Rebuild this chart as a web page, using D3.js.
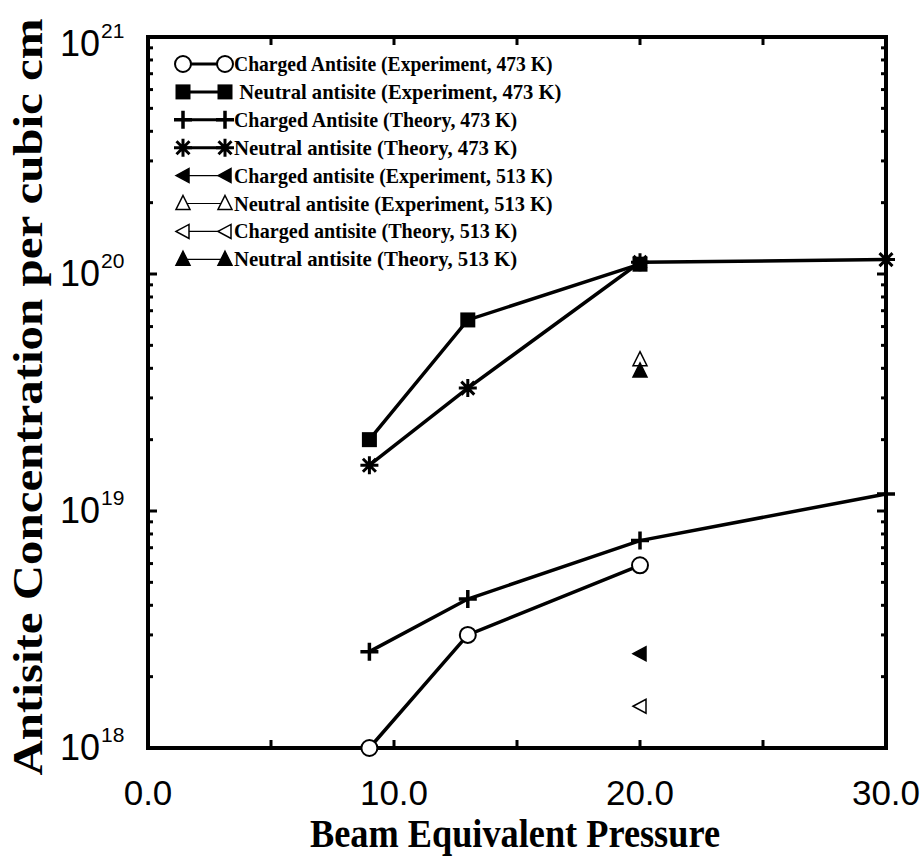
<!DOCTYPE html>
<html>
<head>
<meta charset="utf-8">
<script src="https://cdn.jsdelivr.net/npm/d3@7"></script>
<style>
  body { margin: 0; background: #fff; }
  svg { display: block; }
</style>
</head>
<body>
<svg width="922" height="857"></svg>
<script>
// beam equivalent pressure (x) for each series
var pressure473 = [9, 13, 20];
var pressureTheory473 = [9, 13, 20, 30];
var pressure513 = [20];

// antisite concentration, per cubic cm
var chargedExp473 = [1.0e18, 3.0e18, 5.9e18];
var neutralExp473 = [2.0e19, 6.4e19, 1.1e20];
var chargedTheory473 = [2.55e18, 4.25e18, 7.5e18, 1.18e19];
var neutralTheory473 = [1.56e19, 3.3e19, 1.12e20, 1.15e20];
var chargedExp513 = [2.5e18];
var neutralExp513 = [4.35e19];
var chargedTheory513 = [1.5e18];
var neutralTheory513 = [3.9e19];

var legendLabels = [
    "Charged Antisite (Experiment, 473 K)",
    " Neutral antisite (Experiment, 473 K)",
    "Charged Antisite (Theory, 473 K)",
    "Neutral antisite (Theory, 473 K)",
    "Charged antisite (Experiment, 513 K)",
    "Neutral antisite (Experiment, 513 K)",
    "Charged antisite (Theory, 513 K)",
    "Neutral antisite (Theory, 513 K)"
];

var xTicks = [0, 10, 20, 30];
var yDecades = [1e18, 1e19, 1e20, 1e21];

var svg = d3.select("svg");
var plotLeft = 148, plotRight = 886, plotTop = 37, plotBottom = 748;

var x = d3.scaleLinear().domain([0, 30]).range([plotLeft, plotRight]);
var y = d3.scaleLog().domain([1e18, 1e21]).range([plotBottom, plotTop]);

var series = [
    {xs: pressure473, ys: chargedExp473, sym: "circle", line: true},
    {xs: pressure473, ys: neutralExp473, sym: "square", line: true},
    {xs: pressureTheory473, ys: chargedTheory473, sym: "plus", line: true},
    {xs: pressureTheory473, ys: neutralTheory473, sym: "star", line: true},
    {xs: pressure513, ys: chargedExp513, sym: "leftFilled", line: false},
    {xs: pressure513, ys: neutralExp513, sym: "upOpen", line: false},
    {xs: pressure513, ys: chargedTheory513, sym: "leftOpen", line: false},
    {xs: pressure513, ys: neutralTheory513, sym: "upFilled", line: false}
];

// draw a marker at (cx, cy)
function marker(g, sym, cx, cy) {
    var m = g.append("g").attr("transform", "translate(" + cx + "," + cy + ")");
    if (sym == "circle") {
        m.append("circle").attr("r", 8).attr("fill", "#fff").attr("stroke", "#000").attr("stroke-width", 2);
    } else if (sym == "square") {
        m.append("rect").attr("x", -7.5).attr("y", -7.5).attr("width", 15).attr("height", 15).attr("fill", "#000");
    } else if (sym == "plus") {
        m.append("path").attr("d", "M-9,0H9M0,-9V9").attr("stroke", "#000").attr("stroke-width", 3.5);
    } else if (sym == "star") {
        m.append("path").attr("d", "M-9,0H9M0,-9V9M-6.5,-6.5L6.5,6.5M-6.5,6.5L6.5,-6.5")
            .attr("stroke", "#000").attr("stroke-width", 3);
    } else if (sym == "leftFilled" || sym == "leftOpen") {
        m.append("path").attr("d", "M-7,0L6,-7L6,7Z")
            .attr("fill", sym == "leftFilled" ? "#000" : "#fff").attr("stroke", "#000").attr("stroke-width", 1.5);
    } else {
        m.append("path").attr("d", "M0,-8L7,6L-7,6Z")
            .attr("fill", sym == "upFilled" ? "#000" : "#fff").attr("stroke", "#000").attr("stroke-width", 1.5);
    }
}

// lines
var line = d3.line().x(function(d) { return x(d[0]); }).y(function(d) { return y(d[1]); });
var plot = svg.append("g");
series.forEach(function(s) {
    var pts = s.xs.map(function(v, i) { return [v, s.ys[i]]; });
    if (s.line) {
        plot.append("path").datum(pts).attr("d", line)
            .attr("fill", "none").attr("stroke", "#000").attr("stroke-width", 3.5);
    }
    s.pts = pts;
});

// frame
svg.append("rect").attr("x", plotLeft).attr("y", plotTop)
    .attr("width", plotRight - plotLeft).attr("height", plotBottom - plotTop)
    .attr("fill", "none").attr("stroke", "#000").attr("stroke-width", 4);

series.forEach(function(s) {
    s.pts.forEach(function(p) { marker(svg, s.sym, x(p[0]), y(p[1])); });
});

// y ticks (both sides, inward)
var yMinor = [];
yDecades.slice(0, 3).forEach(function(d) {
    for (var k = 2; k <= 9; k++) yMinor.push(d * k);
});
var ticks = svg.append("g").attr("stroke", "#000").attr("stroke-width", 3);
yDecades.forEach(function(v) {
    ticks.append("line").attr("x1", plotLeft).attr("x2", plotLeft + 9).attr("y1", y(v)).attr("y2", y(v));
    ticks.append("line").attr("x1", plotRight).attr("x2", plotRight - 9).attr("y1", y(v)).attr("y2", y(v));
});
yMinor.forEach(function(v) {
    ticks.append("line").attr("x1", plotLeft).attr("x2", plotLeft + 5).attr("y1", y(v)).attr("y2", y(v));
    ticks.append("line").attr("x1", plotRight).attr("x2", plotRight - 5).attr("y1", y(v)).attr("y2", y(v));
});
// x ticks every 5
d3.range(5, 30, 5).forEach(function(v) {
    ticks.append("line").attr("x1", x(v)).attr("x2", x(v)).attr("y1", plotBottom).attr("y2", plotBottom - 8);
    ticks.append("line").attr("x1", x(v)).attr("x2", x(v)).attr("y1", plotTop).attr("y2", plotTop + 8);
});

// y tick labels
var yl = svg.append("g").attr("font-family", "Liberation Sans, Arial, sans-serif").attr("fill", "#000");
yDecades.forEach(function(v) {
    var ty = Math.max(y(v), 44);
    yl.append("text").attr("x", 100).attr("y", ty + 12).attr("text-anchor", "end")
        .attr("font-size", 36).text("10");
    yl.append("text").attr("x", 101).attr("y", ty - 6).attr("font-size", 21)
        .text(Math.round(Math.log10(v)));
});

// x tick labels
svg.append("g").selectAll("text").data(xTicks).enter().append("text")
    .attr("x", function(d) { return x(d); })
    .attr("y", 805)
    .attr("text-anchor", "middle")
    .attr("font-family", "Liberation Sans, Arial, sans-serif")
    .attr("font-size", 35)
    .text(function(d) { return d.toFixed(1); });

// axis titles
svg.append("text").attr("x", 515).attr("y", 847).attr("text-anchor", "middle")
    .attr("font-family", "Liberation Serif, Times New Roman, serif").attr("font-weight", "bold")
    .attr("font-size", 39).attr("textLength", 410).attr("lengthAdjust", "spacingAndGlyphs")
    .text("Beam Equivalent Pressure");
svg.append("text").attr("transform", "translate(42,397) rotate(-90)").attr("text-anchor", "middle")
    .attr("font-family", "Liberation Serif, Times New Roman, serif").attr("font-weight", "bold")
    .attr("font-size", 42).attr("textLength", 757).attr("lengthAdjust", "spacingAndGlyphs")
    .text("Antisite Concentration per cubic cm");

// legend
var legend = svg.append("g");
series.forEach(function(s, i) {
    var ly = 64 + i * 27.9;
    legend.append("line").attr("x1", 183).attr("x2", 225).attr("y1", ly).attr("y2", ly)
        .attr("stroke", "#000").attr("stroke-width", i < 4 ? 3 : 1.2);
    marker(legend, s.sym, 183, ly);
    marker(legend, s.sym, 225, ly);
    legend.append("text").attr("x", 234).attr("y", ly + 7)
        .attr("font-family", "Liberation Serif, Times New Roman, serif").attr("font-weight", "bold")
        .attr("font-size", 21).attr("textLength", legendLabels[i].length * 8.85)
        .attr("lengthAdjust", "spacingAndGlyphs").attr("xml:space", "preserve")
        .text(legendLabels[i]);
});
</script>
</body>
</html>
